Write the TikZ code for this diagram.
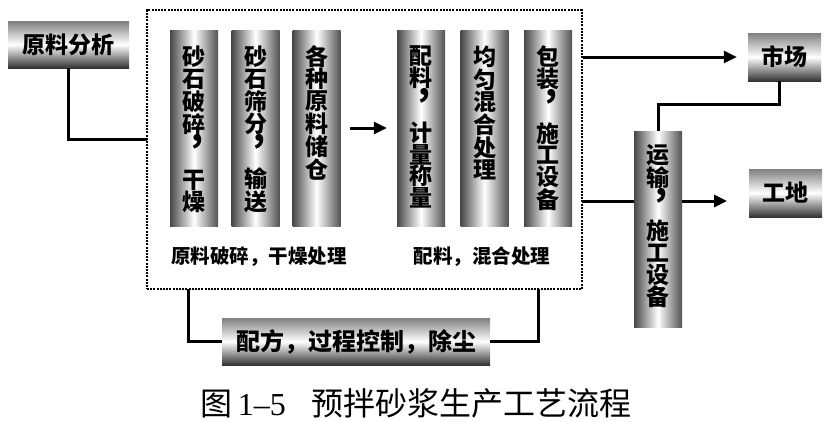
\documentclass[tikz,border=0pt]{standalone}
\usepackage{fontspec}
\setmainfont{Noto Sans CJK SC}
\newfontfamily\numfont{Liberation Serif}
\usetikzlibrary{arrows.meta}
\tikzset{
  colbox/.style={inner sep=0pt, minimum width=48pt, minimum height=196pt,
    left color=black!72, right color=black!68, middle color=white},
  hbox/.style={inner sep=0pt, top color=black!50, bottom color=black!80, middle color=white,
    font=\bfseries\fontsize{23}{23}\selectfont},
  frame/.style={draw, line width=2.5pt, dash pattern=on 2pt off 1.2pt, inner sep=0pt},
  conn/.style={line width=3pt},
  arr/.style={conn, -{Triangle[length=13pt,width=12pt]}},
  lbl/.style={font=\bfseries\fontsize{19.5}{19.5}\selectfont, inner sep=0pt},
}
\newcommand\vcol[3]{\parbox[c][#1][t]{44pt}{\centering\bfseries\fontsize{23}{#2}\selectfont #3}}
\newcommand\vcomma{\smash{\raisebox{13pt}{\hspace*{7pt}{\fontsize{34}{34}\selectfont,}}}}
\begin{document}
\begin{tikzpicture}[x=1pt,y=-1pt]
\useasboundingbox (0,0) rectangle (829,421);
% dotted frame
\node[frame, minimum width=435pt, minimum height=279pt] (frame) at (364.5,149.5) {};
% left input
\node[hbox, minimum width=121pt, minimum height=47pt] (ana) at (68.5,44.5) {原料分析};
% columns
\node[colbox] (c1) at (194,128) {\vcol{164pt}{21.8pt}{砂\\石\\破\\碎\\\vcomma\\[12pt]干\\燥}};
\node[colbox] (c2) at (255.5,128) {\vcol{164pt}{21.8pt}{砂\\石\\筛\\分\\\vcomma\\[12pt]输\\送}};
\node[colbox] (c3) at (316.5,128) {\vcol{164pt}{21.8pt}{各\\种\\原\\料\\储\\仓}};
\node[colbox] (c4) at (421,128) {\vcol{164pt}{21.8pt}{配\\料\\\vcomma\\[11pt]计\\量\\称\\量}};
\node[colbox] (c5) at (484.5,128) {\vcol{164pt}{21.8pt}{均\\匀\\混\\合\\处\\理}};
\node[colbox] (c6) at (548,128) {\vcol{164pt}{21.8pt}{包\\装\\\vcomma\\[11pt]施\\工\\设\\备}};
\node[lbl] (l1) at (259,257) {原料破碎，干燥处理};
\node[lbl] (l2) at (482,257) {配料，混合处理};
% outputs
\node[hbox, minimum width=73pt, minimum height=48pt] (mkt) at (784.5,57) {市场};
\node[hbox, minimum width=73pt, minimum height=48pt] (site) at (785.5,193) {工地};
\node[colbox] (trans) at (658,229) {\vcol{170pt}{22pt}{运\\输\\\vcomma\\[9pt]施\\工\\设\\备}};
% bottom bar
\node[hbox, minimum width=268pt, minimum height=47pt, font=\bfseries\fontsize{24}{24}\selectfont] (bar) at (356,341.5) {配方，过程控制，除尘};
% caption
\node[inner sep=0pt, font=\fontsize{32}{32}\selectfont] (cap) at (416,403) {图\,{\numfont 1–5}\hspace{0.8em}预拌砂浆生产工艺流程};
% connectors
\coordinate (a1) at (147,139);
\draw[conn] (ana.south) |- (a1);
\draw[arr] ([xshift=9pt]c3.east) -- ([xshift=-10pt]c4.west);
\draw[arr] (frame.east |- mkt) -- ([xshift=-11pt]mkt.west);
\coordinate (b1) at (582,201);
\coordinate (b2) at (727,201);
\draw[conn] (b1) -- (b1 -| trans.west);
\draw[arr] (b1 -| trans.east) -- (b2);
\draw[conn] ([xshift=-5pt]mkt.south) -- ++(0,23) -| (trans.north);
\coordinate (d1) at (188,289);
\coordinate (d2) at (538,289);
\draw[conn] (d1) |- (bar.west);
\draw[conn] (d2) |- (bar.east);
\end{tikzpicture}
\end{document}
